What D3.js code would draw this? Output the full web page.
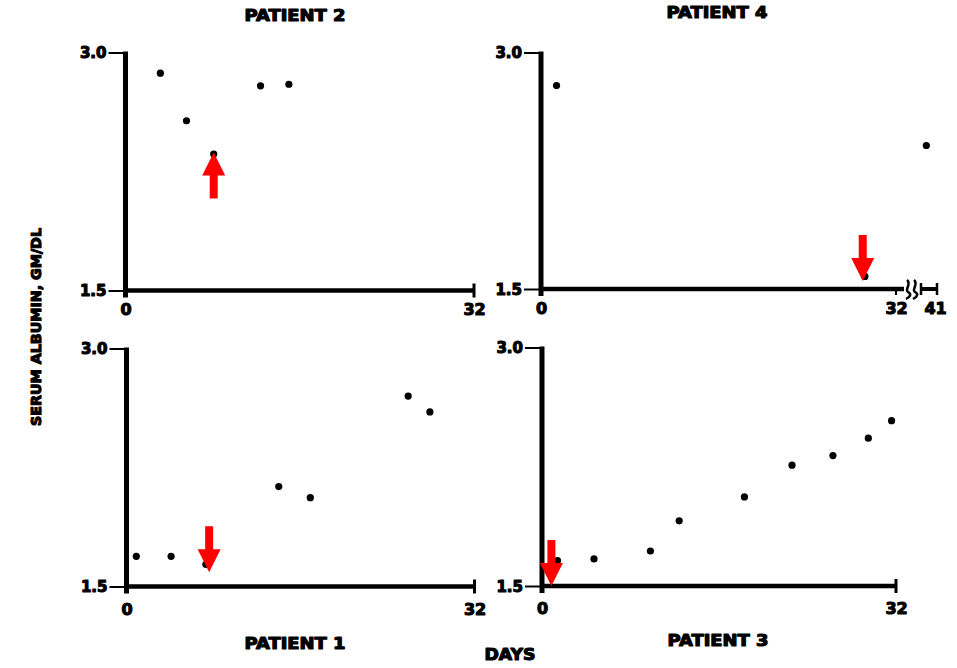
<!DOCTYPE html>
<html>
<head>
<meta charset="utf-8">
<script src="https://cdn.jsdelivr.net/npm/d3@7/dist/d3.min.js"></script>
<style>
  html, body { margin: 0; padding: 0; background: #fff; }
  svg { display: block; }
</style>
</head>
<body>
<script>
// Serum albumin (gm/dl) by day, four patients
const p1Days    = [0.9, 4.1, 7.3, 14.0, 16.9, 25.9, 27.9];
const p1Albumin = [1.69, 1.69, 1.64, 2.13, 2.06, 2.70, 2.60];

const p2Days    = [3.2, 5.6, 8.1, 12.4, 15.0];
const p2Albumin = [2.87, 2.57, 2.36, 2.79, 2.80];

const p3Days    = [1.4, 4.7, 9.8, 12.4, 18.3, 22.6, 26.3, 29.5, 31.6];
const p3Albumin = [1.66, 1.67, 1.72, 1.91, 2.06, 2.26, 2.32, 2.43, 2.54];

const p4Days    = [1.4, 29.2, 40];
const p4Albumin = [2.79, 1.58, 2.41];

// Event markers (arrow tip at day / level)
const arrowDays       = [7.6, 8.1, 0.85, 29.0];
const arrowLevels     = [1.59, 2.37, 1.50, 1.55];
const arrowDirections = ["down", "up", "down", "down"];

const panelTitles = ["PATIENT 1", "PATIENT 2", "PATIENT 3", "PATIENT 4"];
const yTickValues = [1.5, 3.0];
const xTickValues = [0, 32];
const yLabel = "SERUM ALBUMIN, GM/DL";
const xLabel = "DAYS";

const W = 957, H = 668;
const FONT = "'DejaVu Sans', 'Liberation Sans', Arial, sans-serif";

const svg = d3.select("body").append("svg")
  .attr("width", W).attr("height", H);
svg.append("rect").attr("width", W).attr("height", H).attr("fill", "#fff");

// Panel frames: left/right columns, top/bottom rows
const layout = [
  { x0: 126.5, x1: 474.5, yTop: 348.5, yBot: 586.5, titleX: 295, titleY: 644, tickDy: 17 },  // patient 1
  { x0: 125.5, x1: 474,   yTop: 52.5,  yBot: 290.5, titleX: 295, titleY: 16,  tickDy: 13 },  // patient 2
  { x0: 542,   x1: 896,   yTop: 347.5, yBot: 586,   titleX: 718, titleY: 641, tickDy: 17 },  // patient 3
  { x0: 541,   x1: 896,   yTop: 52.5,  yBot: 289,   titleX: 717, titleY: 13,  tickDy: 14 }   // patient 4
];
const series = [
  [p1Days, p1Albumin], [p2Days, p2Albumin], [p3Days, p3Albumin], [p4Days, p4Albumin]
];

function heavyText(sel, size) {
  return sel.attr("font-family", FONT).attr("font-weight", "bold")
    .attr("font-size", size).attr("fill", "#000")
    .attr("stroke", "#000").attr("stroke-width", 1.1)
    .attr("stroke-linejoin", "round");
}

function arrowPath(dir) {
  // tip at origin, head 23x23, shaft 8 wide x 23 long
  const s = dir === "down" ? -1 : 1;
  return `M0,0 L11.5,${23 * s} L4,${23 * s} L4,${46 * s} L-4,${46 * s} L-4,${23 * s} L-11.5,${23 * s} Z`;
}

layout.forEach((cfg, i) => {
  const broken = i === 3;
  const x = d3.scaleLinear().domain([0, 32]).range([cfg.x0, cfg.x1]);
  const y = d3.scaleLinear().domain([1.5, 3.0]).range([cfg.yBot, cfg.yTop]);
  const g = svg.append("g");

  // y axis with tick labels
  const yAxis = d3.axisLeft(y).tickValues(yTickValues)
    .tickFormat(d3.format(".1f")).tickSizeInner(17).tickSizeOuter(0).tickPadding(2);
  const gy = g.append("g").attr("transform", `translate(${cfg.x0},0)`).call(yAxis);
  gy.select(".domain").remove();
  gy.selectAll(".tick line").attr("stroke", "#000").attr("stroke-width", 2);
  heavyText(gy.selectAll(".tick text"), 15).attr("dy", "0.36em");
  g.append("line")
    .attr("x1", cfg.x0).attr("x2", cfg.x0)
    .attr("y1", y(3.0) - 1).attr("y2", y(1.5) + 7)
    .attr("stroke", "#000").attr("stroke-width", 5);

  // x axis
  const xAxis = d3.axisBottom(x).tickValues(xTickValues).tickFormat(d3.format("d"))
    .tickSizeInner(0).tickSizeOuter(0).tickPadding(cfg.tickDy);
  const gx = g.append("g").attr("transform", `translate(0,${cfg.yBot})`).call(xAxis);
  gx.select(".domain").remove();
  heavyText(gx.selectAll(".tick text"), 16);

  const xEnd = broken ? x(32) + 8 : x(32);
  g.append("line")
    .attr("x1", cfg.x0).attr("x2", xEnd)
    .attr("y1", cfg.yBot).attr("y2", cfg.yBot)
    .attr("stroke", "#000").attr("stroke-width", 4.5);

  let xs = d => x(d);

  if (!broken) {
    g.append("line")
      .attr("x1", x(32)).attr("x2", x(32))
      .attr("y1", cfg.yBot - 7).attr("y2", cfg.yBot + 7)
      .attr("stroke", "#000").attr("stroke-width", 3);
  } else {
    // small tick at day 32, axis break, then the late segment to day 41
    g.append("line")
      .attr("x1", x(32)).attr("x2", x(32))
      .attr("y1", cfg.yBot).attr("y2", cfg.yBot + 6)
      .attr("stroke", "#000").attr("stroke-width", 2);
    const x2 = d3.scaleLinear().domain([39.5, 41]).range([921, 937]);
    [908, 915].forEach(bx => {
      g.append("path")
        .attr("d", `M${bx - 1},${cfg.yBot - 9} C${bx + 4},${cfg.yBot - 5} ${bx - 4},${cfg.yBot + 1} ${bx},${cfg.yBot + 3} S${bx + 2},${cfg.yBot + 8} ${bx - 2},${cfg.yBot + 10}`)
        .attr("fill", "none").attr("stroke", "#000").attr("stroke-width", 2.5);
    });
    g.append("line")
      .attr("x1", x2(39.5)).attr("x2", x2(41))
      .attr("y1", cfg.yBot).attr("y2", cfg.yBot)
      .attr("stroke", "#000").attr("stroke-width", 4);
    [39.5, 41].forEach(d => {
      g.append("line")
        .attr("x1", x2(d)).attr("x2", x2(d))
        .attr("y1", cfg.yBot - 6).attr("y2", cfg.yBot + 6)
        .attr("stroke", "#000").attr("stroke-width", 2.5);
    });
    const gx2 = g.append("g").attr("transform", `translate(0,${cfg.yBot})`)
      .call(d3.axisBottom(x2).tickValues([41]).tickFormat(d3.format("d"))
        .tickSizeInner(0).tickSizeOuter(0).tickPadding(cfg.tickDy));
    gx2.select(".domain").remove();
    heavyText(gx2.selectAll(".tick text"), 16).attr("dx", -2);
    xs = d => (d > 32 ? x2(d) : x(d));
  }

  // data points
  const [days, vals] = series[i];
  g.selectAll("circle.pt").data(days.map((d, k) => [d, vals[k]])).join("circle")
    .attr("class", "pt")
    .attr("cx", d => xs(d[0])).attr("cy", d => y(d[1]))
    .attr("r", 3.6).attr("fill", "#000");

  // event arrow
  g.append("path")
    .attr("d", arrowPath(arrowDirections[i]))
    .attr("transform", `translate(${x(arrowDays[i])},${y(arrowLevels[i])})`)
    .attr("fill", "#ff0000");

  // panel title
  heavyText(g.append("text"), 15)
    .attr("x", cfg.titleX).attr("y", cfg.titleY).attr("dy", "0.36em")
    .attr("text-anchor", "middle")
    .attr("textLength", 101).attr("lengthAdjust", "spacingAndGlyphs")
    .text(panelTitles[i]);
});

// shared axis titles
heavyText(svg.append("text"), 14)
  .attr("transform", "translate(36,327) rotate(-90)")
  .attr("text-anchor", "middle").attr("dy", "0.36em")
  .attr("textLength", 198).attr("lengthAdjust", "spacingAndGlyphs")
  .text(yLabel);

heavyText(svg.append("text"), 15)
  .attr("x", 510).attr("y", 655).attr("dy", "0.36em")
  .attr("text-anchor", "middle")
  .attr("textLength", 51).attr("lengthAdjust", "spacingAndGlyphs")
  .text(xLabel);
</script>
</body>
</html>
